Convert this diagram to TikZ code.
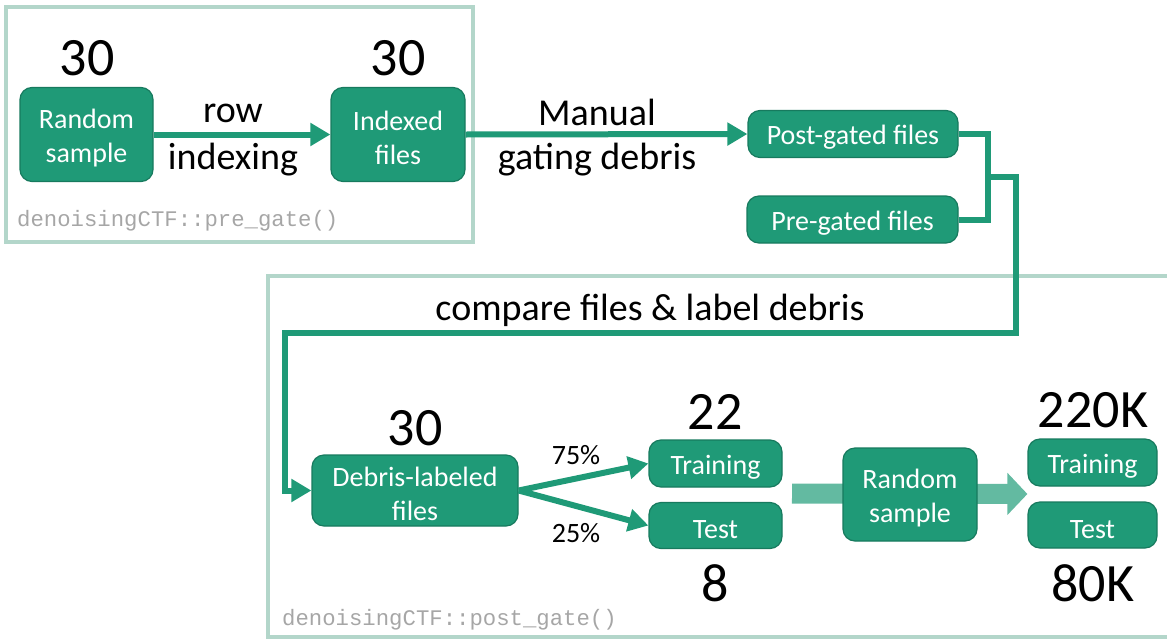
\documentclass[tikz,border=0pt]{standalone}
\usepackage{fontspec}
\setmainfont{Carlito}
\setmonofont{Liberation Mono}
\usetikzlibrary{arrows.meta,backgrounds,calc}
\definecolor{tealfill}{HTML}{1F9A77}
\definecolor{tealdark}{HTML}{177A5E}
\definecolor{framec}{HTML}{B3D6CA}
\definecolor{widec}{HTML}{63BAA1}
\definecolor{codegray}{HTML}{A6A6A6}
\newcommand\bxstrut{\rule{0pt}{26.5pt}}
\tikzset{
  box/.style={draw=tealdark, fill=tealfill, line width=1.2pt, rounded corners=12pt,
    text=white, align=center, font=\fontsize{28}{34}\selectfont, inner sep=0pt},
  num/.style={font=\fontsize{54}{60}\selectfont, inner sep=0pt},
  lab/.style={font=\fontsize{38}{46}\selectfont, inner sep=0pt},
  pct/.style={font=\fontsize{28}{34}\selectfont, inner sep=0pt},
  code/.style={font=\ttfamily\fontsize{22.3}{26}\selectfont, text=codegray, inner sep=0pt, anchor=west},
  conn/.style={draw=tealfill, line width=6pt},
  arr/.style={conn, -{Triangle[length=20pt,width=22pt]}},
  framebox/.style={draw=framec, line width=4pt},
  widearr/.style={draw=widec, line width=20pt, -{Triangle[length=20pt,width=41pt]}},
}
\begin{document}
\begin{tikzpicture}[x=1pt,y=-1pt]
\useasboundingbox (0,0) rectangle (1167,640);
% frames
\draw[framebox] (6,7) rectangle (473,242);
\draw[framebox] (1167,276) -- (268,276) -- (268,637) -- (1167,637);
% top part
\node[box, minimum width=133pt, minimum height=94pt] (rs1) at (86.5,134.5) {\bxstrut Random\\sample};
\node[box, minimum width=134pt, minimum height=94pt] (idx) at (398,134.5) {\bxstrut Indexed\\files};
\node[num] (n1) at (87,58) {30};
\node[num] (n2) at (398,58) {30};
\node[box, minimum width=210pt, minimum height=47pt] (post) at (853,134) {\bxstrut Post-gated files};
\node[box, minimum width=211pt, minimum height=47pt] (pre) at (852.5,219.5) {\bxstrut Pre-gated files};
\node[lab] (l1a) at (233,113) {row};
\node[lab] (l1b) at (233,160) {indexing};
\node[lab] (l2a) at (597,112) {Manual};
\node[lab] (l2b) at (597,160) {gating debris};
\node[code] (c1) at (17,221) {denoisingCTF::pre\_gate()};
\draw[arr] (rs1.east) -- (idx.west);
\draw[arr] (idx.east) -- (post.west);
% bottom part
\node[box, minimum width=206pt, minimum height=71pt] (deb) at (415,490.5) {\bxstrut Debris-labeled\\files};
\node[num] (n3) at (415,428) {30};
\node[box, minimum width=133pt, minimum height=47pt] (tr1) at (715.5,463.5) {\bxstrut Training};
\node[box, minimum width=133pt, minimum height=46pt] (te1) at (715.5,525.5) {\bxstrut Test};
\node[num] (n4) at (715,412) {22};
\node[num] (n5) at (715,583) {8};
\node[box, minimum width=134pt, minimum height=93pt] (rs2) at (910,494.5) {\bxstrut Random\\sample};
\node[box, minimum width=129pt, minimum height=47pt] (tr2) at (1092.5,462.5) {\bxstrut Training};
\node[box, minimum width=129pt, minimum height=46pt] (te2) at (1092.5,525) {\bxstrut Test};
\node[num] (n6) at (1093,410) {220K};
\node[num] (n7) at (1093,583) {80K};
\node[pct] (p1) at (576,455) {75\%};
\node[pct] (p2) at (576,533) {25\%};
\node[lab] (l3) at (650,310) {compare files \& label debris};
\node[code] (c2) at (282,620) {denoisingCTF::post\_gate()};
\draw[arr] (deb.east) -- (tr1.west);
\draw[arr] (deb.east) -- (te1.west);
% connector from gated files
\coordinate (mx) at (988,177);
\coordinate (rr) at (1016,333);
\coordinate (ll) at (285,333);
\coordinate (wa) at (792,493.5);
\draw[conn] (post.east) -| (mx);
\draw[conn] (pre.east) -| (mx);
\draw[arr] (mx) -| (rr) -- (ll) |- (deb.west);
\begin{scope}[on background layer]
\draw[widearr] (wa) -- ($(tr2.south west)!0.5!(te2.north west)$);
\end{scope}
\end{tikzpicture}
\end{document}
